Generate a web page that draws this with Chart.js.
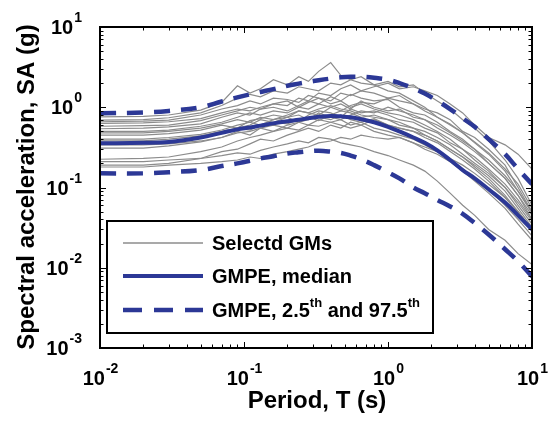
<!DOCTYPE html>
<html>
<head>
<meta charset="utf-8">
<script src="https://cdn.jsdelivr.net/npm/chart.js@4/dist/chart.umd.min.js"></script>
<style>
  html, body { margin: 0; padding: 0; background: #fff; }
  canvas { display: block; }
</style>
</head>
<body>
<canvas id="sa-chart" width="551" height="421"></canvas>
<script>
  // Periods (s)
  const periods = [0.01, 0.02, 0.03, 0.05, 0.07, 0.09, 0.11, 0.13, 0.16, 0.2, 0.24, 0.28, 0.33, 0.4, 0.47,
                   0.55, 0.65, 0.8, 1.0, 1.2, 1.5, 1.8, 2.2, 2.7, 3.3, 4.0, 5.0, 6.5, 8.0, 10];

  // GMPE median and 2.5th / 97.5th percentiles (g)
  const gmpeMedian = [0.355, 0.36, 0.37, 0.42, 0.48, 0.53, 0.56, 0.59, 0.63, 0.67, 0.70, 0.73, 0.76, 0.78, 0.77,
                      0.75, 0.71, 0.65, 0.57, 0.50, 0.42, 0.36, 0.29, 0.22, 0.165, 0.13, 0.095, 0.065, 0.045, 0.03];
  const gmpeP975 = [0.84, 0.86, 0.9, 1.0, 1.18, 1.33, 1.45, 1.55, 1.68, 1.85, 1.97, 2.07, 2.17, 2.28, 2.36,
                    2.4, 2.4, 2.33, 2.2, 2.0, 1.72, 1.48, 1.2, 0.95, 0.73, 0.57, 0.4, 0.26, 0.17, 0.11];
  const gmpeP025 = [0.15, 0.15, 0.155, 0.165, 0.185, 0.2, 0.215, 0.23, 0.245, 0.265, 0.275, 0.283, 0.287, 0.28, 0.27,
                    0.25, 0.225, 0.19, 0.155, 0.13, 0.1, 0.085, 0.07, 0.058, 0.047, 0.036, 0.026, 0.017, 0.012, 0.0078];

  // Selected ground motions (g)
  const gm1 = [0.76, 0.77, 0.80, 0.92, 1.15, 1.85, 1.5, 1.7, 2.2, 1.9, 2.4, 2.1, 2.8, 3.6, 2.5, 2.2, 2.0, 1.9, 1.6, 1.5, 1.2, 1.0, 0.75, 0.62, 0.48, 0.36, 0.26, 0.16, 0.09, 0.048];
  const gm2 = [0.69, 0.70, 0.74, 0.85, 1.05, 1.3, 1.45, 1.35, 1.6, 1.5, 1.8, 1.7, 1.6, 2.0, 1.9, 2.2, 2.4, 1.9, 2.1, 1.8, 1.9, 1.5, 1.2, 0.95, 0.7, 0.55, 0.38, 0.22, 0.13, 0.06];
  const gm3 = [0.66, 0.67, 0.69, 0.8, 0.95, 1.05, 1.2, 1.1, 1.3, 1.25, 1.15, 1.4, 1.3, 1.2, 1.5, 1.4, 1.6, 1.5, 1.3, 1.4, 1.1, 0.95, 0.85, 0.7, 0.5, 0.42, 0.3, 0.19, 0.1, 0.05];
  const gm4 = [0.63, 0.64, 0.66, 0.72, 0.85, 0.95, 0.9, 1.0, 1.1, 1.05, 1.3, 1.2, 1.5, 1.4, 1.7, 1.9, 1.6, 1.8, 2.0, 1.7, 1.8, 1.6, 1.4, 1.1, 0.85, 0.6, 0.42, 0.34, 0.26, 0.17];
  const gm5 = [0.58, 0.59, 0.6, 0.68, 0.8, 0.9, 1.0, 0.95, 1.1, 1.2, 1.0, 1.15, 1.3, 1.1, 1.2, 1.0, 1.1, 0.95, 0.85, 0.8, 0.7, 0.6, 0.5, 0.4, 0.3, 0.24, 0.17, 0.11, 0.07, 0.04];
  const gm6 = [0.54, 0.55, 0.57, 0.62, 0.75, 0.85, 0.8, 0.95, 1.0, 0.9, 1.05, 1.2, 1.1, 1.35, 1.2, 1.45, 1.3, 1.2, 1.25, 1.0, 0.85, 0.8, 0.65, 0.5, 0.4, 0.3, 0.2, 0.13, 0.08, 0.045];
  const gm7 = [0.5, 0.5, 0.52, 0.58, 0.65, 0.75, 0.85, 0.8, 0.9, 0.85, 1.0, 0.95, 1.1, 1.0, 0.9, 1.05, 1.15, 1.1, 1.3, 1.2, 1.1, 0.9, 0.75, 0.6, 0.48, 0.37, 0.27, 0.17, 0.11, 0.055];
  const gm8 = [0.48, 0.48, 0.5, 0.55, 0.62, 0.7, 0.65, 0.75, 0.7, 0.8, 0.9, 0.85, 0.95, 1.05, 0.95, 0.9, 0.8, 0.75, 0.7, 0.6, 0.55, 0.45, 0.38, 0.3, 0.24, 0.19, 0.14, 0.09, 0.055, 0.032];
  const gm9 = [0.45, 0.45, 0.47, 0.52, 0.6, 0.55, 0.68, 0.72, 0.8, 0.75, 0.9, 0.85, 0.8, 1.0, 1.1, 0.95, 1.2, 1.0, 0.9, 0.95, 0.75, 0.7, 0.55, 0.45, 0.36, 0.28, 0.2, 0.13, 0.08, 0.04];
  const gm10 = [0.4, 0.4, 0.42, 0.46, 0.52, 0.6, 0.65, 0.6, 0.7, 0.75, 0.65, 0.8, 0.9, 0.85, 0.75, 0.95, 0.85, 0.9, 0.8, 0.7, 0.65, 0.55, 0.48, 0.36, 0.3, 0.22, 0.16, 0.1, 0.06, 0.035];
  const gm11 = [0.38, 0.38, 0.4, 0.44, 0.5, 0.55, 0.52, 0.6, 0.65, 0.62, 0.7, 0.75, 0.68, 0.8, 0.9, 0.85, 0.75, 0.8, 0.7, 0.65, 0.55, 0.5, 0.42, 0.34, 0.26, 0.2, 0.15, 0.1, 0.065, 0.038];
  const gm12 = [0.35, 0.35, 0.37, 0.42, 0.48, 0.55, 0.6, 0.7, 0.65, 0.75, 0.8, 0.7, 0.85, 0.75, 0.7, 0.8, 0.9, 0.85, 1.0, 0.9, 0.8, 0.7, 0.6, 0.48, 0.38, 0.3, 0.22, 0.14, 0.09, 0.05];
  const gm13 = [0.34, 0.34, 0.35, 0.38, 0.42, 0.5, 0.45, 0.55, 0.5, 0.6, 0.65, 0.6, 0.7, 0.65, 0.6, 0.55, 0.6, 0.5, 0.45, 0.42, 0.36, 0.3, 0.26, 0.21, 0.16, 0.12, 0.085, 0.055, 0.035, 0.022];
  const gm14 = [0.31, 0.31, 0.33, 0.37, 0.42, 0.48, 0.5, 0.55, 0.6, 0.55, 0.65, 0.7, 0.75, 0.7, 0.8, 0.7, 0.65, 0.72, 0.6, 0.55, 0.5, 0.45, 0.38, 0.3, 0.24, 0.18, 0.13, 0.08, 0.05, 0.03];
  const gm15 = [0.225, 0.23, 0.24, 0.28, 0.32, 0.38, 0.42, 0.45, 0.5, 0.55, 0.52, 0.6, 0.58, 0.65, 0.7, 0.6, 0.65, 0.55, 0.5, 0.45, 0.4, 0.34, 0.28, 0.22, 0.17, 0.13, 0.095, 0.06, 0.04, 0.025];
  const gm16 = [0.21, 0.21, 0.22, 0.23, 0.25, 0.27, 0.26, 0.29, 0.32, 0.35, 0.38, 0.36, 0.42, 0.4, 0.36, 0.34, 0.32, 0.28, 0.25, 0.22, 0.19, 0.16, 0.12, 0.085, 0.06, 0.045, 0.03, 0.022, 0.015, 0.011];
  const gm17 = [0.19, 0.19, 0.2, 0.23, 0.28, 0.3, 0.35, 0.4, 0.38, 0.45, 0.5, 0.55, 0.5, 0.6, 0.55, 0.65, 0.6, 0.7, 0.6, 0.55, 0.5, 0.42, 0.36, 0.28, 0.22, 0.17, 0.12, 0.075, 0.05, 0.03];
  const gm18 = [0.18, 0.18, 0.19, 0.2, 0.21, 0.22, 0.24, 0.23, 0.26, 0.28, 0.3, 0.32, 0.36, 0.38, 0.42, 0.4, 0.45, 0.42, 0.4, 0.42, 0.36, 0.32, 0.28, 0.23, 0.19, 0.15, 0.11, 0.075, 0.05, 0.03];
  const selectedGMs = [gm1, gm2, gm3, gm4, gm5, gm6, gm7, gm8, gm9, gm10, gm11, gm12, gm13, gm14, gm15, gm16, gm17, gm18];

  // Axis decades (exponents of 10)
  const xDecades = [-2, -1, 0, 1];
  const yDecades = [-3, -2, -1, 0, 1];

  const BLUE = 'rgb(44,56,150)';
  const GREY = 'rgb(140,140,140)';
  const FONT = '"Liberation Sans", Arial, sans-serif';

  const toXY = arr => periods.map((p, i) => ({ x: p, y: arr[i] }));

  const datasets = [
    { label: 'GMPE, median', data: toXY(gmpeMedian), borderColor: BLUE, borderWidth: 4, tension: 0.4, order: 0 },
    { label: 'GMPE, 97.5th', data: toXY(gmpeP975), borderColor: BLUE, borderWidth: 4.5, borderDash: [16, 11], tension: 0.4, order: 0 },
    { label: 'GMPE, 2.5th', data: toXY(gmpeP025), borderColor: BLUE, borderWidth: 4.5, borderDash: [16, 11], tension: 0.4, order: 0 }
  ];
  selectedGMs.forEach((gm, i) => {
    datasets.push({ label: 'GM ' + (i + 1), data: toXY(gm), borderColor: GREY, borderWidth: 1.2, tension: 0, order: 1 });
  });

  // draws "10" with a superscript exponent, returns nothing
  function drawPow(ctx, e, x, y, align) {
    ctx.font = 'bold 20px ' + FONT;
    const w10 = ctx.measureText('10').width;
    ctx.font = 'bold 14px ' + FONT;
    const wExp = ctx.measureText(String(e)).width;
    let x0 = x;
    if (align === 'center') x0 = x - (w10 + wExp) / 2;
    if (align === 'right') x0 = x - (w10 + wExp);
    ctx.textAlign = 'left';
    ctx.textBaseline = 'alphabetic';
    ctx.font = 'bold 20px ' + FONT;
    ctx.fillText('10', x0, y);
    ctx.font = 'bold 14px ' + FONT;
    ctx.fillText(String(e), x0 + w10 + 1, y - 12);
  }

  const matlabAxes = {
    id: 'matlabAxes',
    afterDraw(chart) {
      const { ctx, chartArea: a, scales: { x, y } } = chart;
      ctx.save();
      ctx.strokeStyle = '#000';
      ctx.fillStyle = '#000';

      // minor + major ticks, inward on all four sides
      ctx.lineWidth = 1;
      ctx.beginPath();
      for (let d = -2; d <= 1; d++) {
        for (let m = 1; m <= 9; m++) {
          const v = m * Math.pow(10, d);
          if (v > 10) break;
          const px = Math.round(x.getPixelForValue(v)) + 0.5;
          const len = m === 1 ? 6 : 3.5;
          ctx.moveTo(px, a.bottom); ctx.lineTo(px, a.bottom - len);
          ctx.moveTo(px, a.top); ctx.lineTo(px, a.top + len);
        }
      }
      for (let d = -3; d <= 1; d++) {
        for (let m = 1; m <= 9; m++) {
          const v = m * Math.pow(10, d);
          if (v > 10) break;
          const py = Math.round(y.getPixelForValue(v)) + 0.5;
          const len = m === 1 ? 6 : 3.5;
          ctx.moveTo(a.left, py); ctx.lineTo(a.left + len, py);
          ctx.moveTo(a.right, py); ctx.lineTo(a.right - len, py);
        }
      }
      ctx.stroke();

      // frame
      ctx.lineWidth = 2;
      ctx.strokeRect(a.left, a.top, a.right - a.left, a.bottom - a.top);

      // tick labels
      xDecades.forEach(e => drawPow(ctx, e, x.getPixelForValue(Math.pow(10, e)), 385, 'center'));
      yDecades.forEach(e => drawPow(ctx, e, 81, y.getPixelForValue(Math.pow(10, e)) + 7, 'right'));

      // axis titles
      ctx.font = 'bold 24px ' + FONT;
      ctx.textAlign = 'center';
      ctx.textBaseline = 'alphabetic';
      ctx.fillText('Period, T (s)', 317, 408);
      ctx.save();
      ctx.translate(34, 187);
      ctx.rotate(-Math.PI / 2);
      ctx.fillText('Spectral acceleration, SA (g)', 0, 0);
      ctx.restore();

      // legend
      const lx = 107, ly = 221, lw = 326, lh = 112;
      ctx.fillStyle = '#fff';
      ctx.fillRect(lx, ly, lw, lh);
      ctx.lineWidth = 2;
      ctx.strokeStyle = '#000';
      ctx.strokeRect(lx, ly, lw, lh);

      const rows = [243, 276, 310];
      const sx0 = 123, sx1 = 203, tx = 212;
      ctx.lineCap = 'butt';
      // grey sample
      ctx.strokeStyle = GREY; ctx.lineWidth = 1.5; ctx.setLineDash([]);
      ctx.beginPath(); ctx.moveTo(sx0, rows[0]); ctx.lineTo(sx1, rows[0]); ctx.stroke();
      // median sample
      ctx.strokeStyle = BLUE; ctx.lineWidth = 4;
      ctx.beginPath(); ctx.moveTo(sx0, rows[1]); ctx.lineTo(sx1, rows[1]); ctx.stroke();
      // dashed sample
      ctx.lineWidth = 4.5; ctx.setLineDash([19, 12]);
      ctx.beginPath(); ctx.moveTo(sx0, rows[2]); ctx.lineTo(sx1, rows[2]); ctx.stroke();
      ctx.setLineDash([]);

      ctx.fillStyle = '#000';
      ctx.textAlign = 'left';
      ctx.textBaseline = 'alphabetic';
      ctx.font = 'bold 20px ' + FONT;
      ctx.fillText('Selectd GMs', tx, rows[0] + 7);
      ctx.fillText('GMPE, median', tx, rows[1] + 7);

      // "GMPE, 2.5th and 97.5th" with superscripts
      let cx = tx;
      const base = rows[2] + 7;
      const parts = [['GMPE, 2.5', false], ['th', true], [' and 97.5', false], ['th', true]];
      parts.forEach(([t, sup]) => {
        ctx.font = sup ? 'bold 13px ' + FONT : 'bold 20px ' + FONT;
        ctx.fillText(t, cx, sup ? base - 10 : base);
        cx += ctx.measureText(t).width;
      });

      ctx.restore();
    }
  };

  const ctx = document.getElementById('sa-chart').getContext('2d');

  new Chart(ctx, {
    type: 'line',
    data: { datasets },
    options: {
      responsive: false,
      animation: false,
      devicePixelRatio: 1,
      layout: { padding: { left: 100, right: 19, top: 27, bottom: 73 } },
      elements: { point: { radius: 0 } },
      plugins: { legend: { display: false }, tooltip: { enabled: false } },
      scales: {
        x: { type: 'logarithmic', min: 0.01, max: 10, display: false },
        y: { type: 'logarithmic', min: 0.001, max: 10, display: false }
      }
    },
    plugins: [matlabAxes]
  });
</script>
</body>
</html>
